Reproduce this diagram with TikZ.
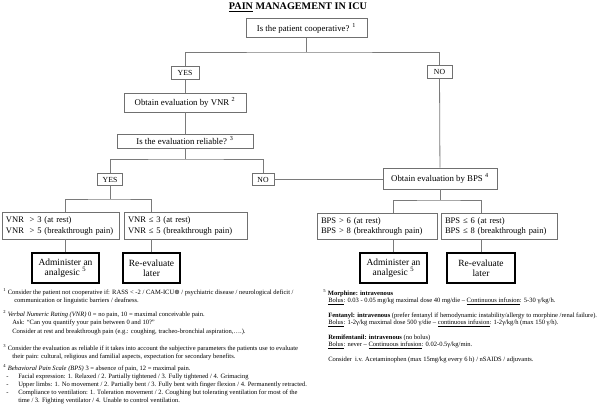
\documentclass[tikz,border=0pt]{standalone}
\usepackage{fontspec}
\setmainfont{Liberation Serif}
\newfontfamily\symfont{DejaVu Sans}
\definecolor{boxgray}{HTML}{707070}
\definecolor{linegray}{HTML}{7A7A7A}
\begin{document}
\begin{tikzpicture}[x=0.75pt,y=-0.75pt,
  box/.style={draw=boxgray, line width=0.5pt, fill=white, inner sep=0pt, align=center, font=\fontsize{6.6}{8}\selectfont},
  yn/.style={box, font=\fontsize{5.8}{7}\selectfont, minimum height=9.5pt},
  twoline/.style={box, align=left, inner xsep=3pt, font=\fontsize{6.4}{8}\selectfont, minimum height=19.75pt},
  final/.style={draw=black, line width=1.5pt, fill=white, inner sep=0pt, align=center, minimum height=22pt, font=\fontsize{7.1}{7.6}\selectfont},
  conn/.style={draw=linegray, line width=0.6pt},
  fn/.style={anchor=base west, inner sep=0pt, font=\fontsize{4.9}{6}\selectfont}]
\useasboundingbox (0,0) rectangle (600,406);

% title
\node (title) at (298,7) {\fontsize{7.6}{9}\selectfont\bfseries \underline{PAIN} MANAGEMENT IN ICU};

% boxes
\node[box, minimum width=90.75pt, minimum height=14.25pt] (b1) at (306.5,28) {Is the patient cooperative? \textsuperscript{1}};
\node[yn, minimum width=21pt] (yes1) at (185,73) {YES};
\node[yn, minimum width=18.75pt] (no1) at (439.5,72) {NO};
\node[box, minimum width=91.5pt, minimum height=14.25pt] (vnr) at (185,102.5) {Obtain evaluation by VNR \textsuperscript{2}};
\node[box, minimum width=102pt, minimum height=10.5pt] (rel) at (185,141) {Is the evaluation reliable? \textsuperscript{3}};
\node[yn, minimum width=18.75pt] (yes2) at (110,179.5) {YES};
\node[yn, minimum width=16.5pt] (no2) at (263,179.5) {NO};
\node[box, minimum width=85.5pt, minimum height=15.75pt] (bps) at (440,178.5) {Obtain evaluation by BPS \textsuperscript{4}};

\node[twoline, text width=81.75pt] (vg) at (60.5,226) {\mbox{VNR\ \ > 3 (at rest)}\\\mbox{VNR\ \ > 5 (breakthrough pain)}};
\node[twoline, text width=86.25pt] (vle) at (185.5,226) {\mbox{VNR ≤ 3 (at rest)}\\\mbox{VNR ≤ 5 (breakthrough pain)}};
\node[twoline, text width=84pt] (bg) at (377,226.5) {\mbox{BPS > 6 (at rest)}\\\mbox{BPS > 8 (breakthrough pain)}};
\node[twoline, text width=81pt] (ble) at (499,226.5) {\mbox{BPS ≤ 6 (at rest)}\\\mbox{BPS ≤ 8 (breakthrough pain)}};

\node[final, minimum width=50.25pt] (adminL) at (65.5,268) {Administer an\\analgesic \textsuperscript{5}};
\node[final, minimum width=42.75pt] (reevalL) at (151.5,268) {Re-evaluate\\later};
\node[final, minimum width=50.25pt] (adminR) at (393.5,268) {Administer an\\analgesic \textsuperscript{5}};
\node[final, minimum width=51pt] (reevalR) at (481,268) {Re-evaluate\\later};

% junctions
\coordinate (j1) at (306.5,52);
\coordinate (j2) at (185,159);
\coordinate (j3) at (110,199);
\coordinate (j4) at (440,200);

% connectors
\draw[conn] (b1) -- (j1);
\draw[conn] (yes1.north) |- (j1) -| (no1.north);
\draw[conn] (yes1) -- (vnr);
\draw[conn] (vnr) -- (rel);
\draw[conn] (rel) -- (j2);
\draw[conn] (yes2.north) |- (j2) -| (no2.north);
\draw[conn] (no1) -- (bps);
\draw[conn] (no2.east) -- (no2.east -| bps.west);
\draw[conn] (yes2) -- (j3);
\draw[conn] (adminL.north |- vg.north) |- (j3) -| (reevalL.north |- vle.north);
\draw[conn] (bps) -- (j4);
\draw[conn] (adminR.north |- bg.north) |- (j4) -| (reevalR.north |- ble.north);
\draw[conn] (adminL.north) -- (adminL.north |- vg.south);
\draw[conn] (reevalL.north) -- (reevalL.north |- vle.south);
\draw[conn] (adminR.north) -- (adminR.north |- bg.south);
\draw[conn] (reevalR.north) -- (reevalR.north |- ble.south);

% footnotes left
\node[fn] (f1a) at (3,294) {\textsuperscript{1} Consider the patient not cooperative if: RASS < -2 / CAM-ICU{\symfont ⊕} / psychiatric disease / neurological deficit /};
\node[fn] (f1b) at (14,302) {communication or linguistic barriers / deafness.};
\node[fn] (f2a) at (3,316) {\textsuperscript{2} \textit{Verbal Numeric Rating (VNR)} 0 = no pain, 10 = maximal conceivable pain.};
\node[fn] (f2b) at (12,324) {Ask: ``Can you quantify your pain between 0 and 10?''};
\node[fn] (f2c) at (12,333) {Consider at rest and breakthrough pain (e.g.: coughing, tracheo-bronchial aspiration,….).};
\node[fn] (f3a) at (3,350) {\textsuperscript{3} Consider the evaluation as reliable if it takes into account the subjective parameters the patients use to evaluate};
\node[fn] (f3b) at (12,358) {their pain: cultural, religious and familial aspects, expectation for secondary benefits.};
\node[fn] (f4a) at (3,370) {\textsuperscript{4} \textit{Behavioral Pain Scale (BPS)} 3 = absence of pain, 12 = maximal pain.};
\node[fn] (f4b) at (6,378) {\makebox[9pt][l]{-}Facial expression: 1. Relaxed / 2. Partially tightened / 3. Fully tightened / 4. Grimacing};
\node[fn] (f4c) at (6,386) {\makebox[9pt][l]{-}Upper limbs: 1. No movement / 2. Partially bent / 3. Fully bent with finger flexion / 4. Permanently retracted.};
\node[fn] (f4d) at (6,394) {\makebox[9pt][l]{-}Compliance to ventilation: 1. Toleration movement / 2. Coughing but tolerating ventilation for most of the};
\node[fn] (f4e) at (18,402) {time / 3. Fighting ventilator / 4. Unable to control ventilation.};

% footnotes right
\node[fn] (r1) at (323,295) {\textsuperscript{5} \textbf{Morphine: intravenous}};
\node[fn] (r2) at (328,302) {\underline{Bolus}: 0.03 - 0.05 mg/kg maximal dose 40 mg/die – \underline{Continuous infusion}: 5-30 γ/kg/h.};
\node[fn] (r3) at (328,317) {\textbf{Fentanyl: intravenous} (prefer fentanyl if hemodynamic instability/allergy to morphine /renal failure).};
\node[fn] (r4) at (328,324) {\underline{Bolus}: 1-2γ/kg maximal dose 500 γ/die – \underline{continuous infusion}: 1-2γ/kg/h (max 150 γ/h).};
\node[fn] (r5) at (328,339) {\textbf{Remifentanil: intravenous} (no bolus)};
\node[fn] (r6) at (328,346) {\underline{Bolus}: never – \underline{Continuous infusion}: 0.02-0.5γ/kg/min.};
\node[fn] (r7) at (328,361) {Consider\ \ i.v. Acetaminophen (max 15mg/kg every 6 h) / nSAIDS / adjuvants.};
\end{tikzpicture}
\end{document}
